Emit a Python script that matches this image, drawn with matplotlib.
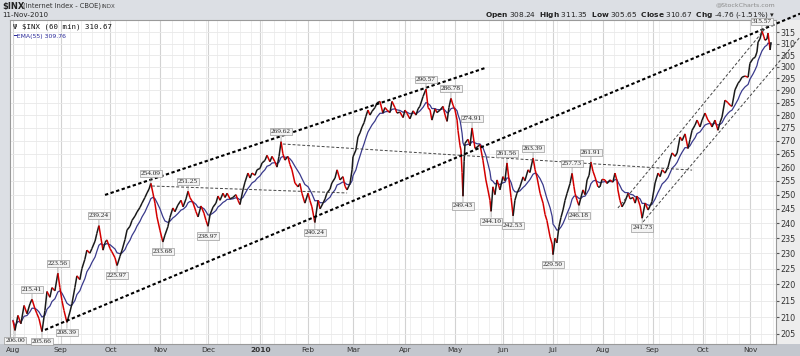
import numpy as np
import pandas as pd
import matplotlib
matplotlib.use('Agg')
import matplotlib.pyplot as plt
from matplotlib.collections import LineCollection
from matplotlib.patches import Rectangle
from matplotlib.ticker import FixedLocator, FixedFormatter, NullLocator

# time in trading days counted from 3 Aug 2009 (fraction = intraday), close of the 60 min bars
t = np.array([
    0.0, 0.9, 2.2, 3.5, 4.9, 6.2, 7.5, 8.4, 9.7, 10.6, 11.5, 12.8, 14.1, 15.0, 16.3, 17.2,
    18.5, 19.8, 20.7, 21.6, 22.5, 23.8, 25.1, 26.0, 27.3, 28.2, 29.5, 30.4, 31.7, 32.6,
    33.9, 34.8, 36.2, 37.0, 37.9, 38.8, 39.7, 40.6, 41.4, 42.8, 43.6, 45.0, 45.9, 47.2,
    48.1, 49.4, 50.3, 51.6, 52.5, 53.8, 54.7, 56.0, 56.9, 58.2, 59.1, 60.0, 60.8, 61.7,
    62.6, 63.5, 64.8, 66.1, 67.0, 68.3, 69.2, 70.5, 71.4, 72.7, 74.1, 75.0, 76.3, 77.2,
    78.0, 79.4, 80.7, 81.6, 82.9, 84.2, 85.1, 86.0, 86.9, 88.2, 89.5, 90.4, 91.3, 92.6,
    93.5, 94.4, 95.7, 97.0, 98.3, 99.2, 100.1, 101.4, 102.3, 103.6, 104.5, 105.4, 106.7,
    107.6, 108.9, 109.8, 111.1, 112.0, 113.3, 114.2, 115.5, 116.4, 117.3, 118.2, 119.0,
    119.9, 121.2, 122.1, 123.0, 124.3, 125.7, 126.5, 127.4, 128.7, 130.1, 130.9, 131.8,
    133.1, 134.5, 135.4, 136.7, 137.6, 138.4, 139.8, 140.6, 142.0, 142.9, 144.2, 145.5,
    146.4, 147.3, 148.6, 149.5, 149.9, 151.2, 152.1, 153.0, 153.9, 154.8, 155.6, 156.5,
    157.4, 158.3, 159.6, 160.5, 161.8, 163.1, 164.0, 164.9, 166.2, 167.1, 168.4, 169.3,
    170.6, 172.0, 172.8, 173.7, 175.0, 176.4, 177.7, 178.6, 179.4, 180.8, 182.1, 183.0,
    183.9, 184.7, 186.1, 186.9, 188.3, 189.6, 190.5, 191.4, 192.2, 193.1, 194.0, 194.9,
    195.8, 196.2, 197.1, 197.5, 198.0, 198.4, 198.9, 199.3, 200.6, 201.5, 202.4, 203.7,
    204.6, 205.9, 207.2, 208.5, 209.4, 210.3, 210.8, 211.6, 212.5, 213.4, 214.7, 216.0,
    216.9, 217.8, 218.7, 219.6, 220.5, 221.3, 222.2, 223.5, 224.9, 225.7, 227.1, 227.9,
    229.3, 230.2, 231.0, 232.4, 233.7, 234.6, 235.4, 236.8, 237.7, 238.1, 239.0, 239.8,
    240.7, 241.6, 242.5, 243.4, 244.3, 245.6, 246.5, 247.3, 247.8, 248.7, 249.5, 250.4,
    251.3, 252.2, 253.1, 254.0, 254.8, 255.7, 256.6, 257.9, 258.8, 259.7, 261.0, 261.9,
    263.2, 264.5, 265.4, 266.3, 266.7, 267.6, 268.5, 269.8, 271.2, 272.1, 273.4, 274.3,
    275.1, 276.5, 277.4, 278.7, 280.0, 280.9, 281.7, 283.1, 284.4, 285.3, 286.2, 287.5,
    288.8, 289.7, 290.6, 291.9, 292.8, 294.1, 295.0, 296.3, 297.6, 298.5, 299.4, 300.7,
    301.6, 302.9, 303.8, 305.1, 306.4, 307.3, 308.2, 309.5, 310.8, 311.7, 312.6, 313.9,
    315.2, 316.1, 317.0, 318.3, 319.7, 320.5, 321.4, 322.7, 324.1, 324.9, 326.3, 327.2,
    328.0, 328.5, 329.3, 330.2, 331.1, 331.5, 332.4, 332.9, 333.8, 334.2])

close = np.array([
    209.0, 206.00, 210.5, 208.0, 213.5, 211.0, 214.0, 215.41, 212.5, 211.0, 209.5, 205.66,
    212.0, 217.8, 216.0, 219.0, 218.0, 223.56, 219.0, 215.0, 212.0, 208.39, 211.5, 214.0,
    219.0, 222.7, 221.5, 225.0, 228.0, 231.0, 230.0, 231.5, 234.0, 236.6, 239.24, 235.0,
    231.0, 233.5, 234.4, 231.5, 230.5, 228.5, 225.97, 229.0, 231.0, 234.5, 237.7, 239.0,
    241.0, 242.5, 243.9, 245.5, 247.0, 249.0, 250.6, 252.0, 254.09, 250.6, 247.0, 242.2,
    237.7, 233.68, 236.0, 238.8, 242.0, 245.3, 244.0, 246.3, 248.0, 245.7, 248.5, 251.25,
    249.0, 247.1, 244.0, 242.2, 246.0, 243.5, 241.0, 238.97, 243.0, 245.6, 247.0, 249.5,
    248.0, 250.5, 249.0, 250.5, 248.5, 249.0, 250.0, 248.0, 246.5, 251.7, 254.5, 257.8,
    256.0, 257.8, 257.0, 259.0, 259.5, 261.5, 262.5, 264.4, 262.0, 264.0, 262.0, 260.0,
    264.0, 269.62, 265.0, 262.6, 264.0, 261.0, 259.0, 254.2, 252.8, 254.0, 250.5, 247.0,
    250.5, 248.0, 245.7, 240.24, 248.0, 245.0, 247.0, 248.5, 250.5, 252.0, 254.2, 256.0,
    259.0, 255.3, 256.5, 253.0, 251.7, 254.0, 259.0, 263.8, 266.4, 271.4, 273.0, 275.3,
    277.0, 279.5, 282.0, 280.0, 281.5, 283.0, 284.9, 285.5, 280.8, 283.0, 282.0, 281.0,
    285.5, 283.0, 280.8, 281.2, 279.0, 282.0, 280.7, 278.5, 281.7, 280.0, 282.5, 283.5,
    287.5, 290.57, 283.0, 282.0, 278.0, 282.5, 281.0, 282.0, 283.5, 280.0, 277.5, 283.0,
    286.78, 284.0, 282.0, 278.0, 274.0, 268.0, 266.4, 258.0, 249.43, 262.0, 269.0, 270.5,
    268.0, 274.91, 267.0, 267.5, 268.5, 262.6, 255.3, 251.7, 248.0, 244.10, 252.8, 250.0,
    255.3, 251.7, 256.5, 255.0, 261.56, 255.3, 249.0, 242.53, 248.0, 250.5, 252.8, 256.4,
    255.0, 259.0, 258.0, 263.39, 259.0, 256.4, 250.5, 247.0, 243.0, 241.0, 235.4, 233.0,
    229.50, 235.0, 233.4, 238.8, 242.0, 244.6, 248.0, 250.5, 254.0, 257.73, 253.0, 250.5,
    248.0, 246.18, 249.0, 251.7, 250.0, 255.3, 257.0, 261.91, 258.5, 256.4, 252.8, 252.8,
    255.5, 255.3, 254.0, 255.3, 254.5, 257.8, 255.0, 251.7, 248.0, 245.7, 247.5, 250.5,
    248.5, 249.0, 247.0, 249.5, 246.0, 241.73, 247.0, 244.6, 246.0, 247.5, 254.2, 257.8,
    256.5, 259.0, 257.8, 260.0, 263.0, 265.3, 264.0, 265.3, 271.4, 270.0, 272.6, 267.0,
    270.5, 274.0, 276.0, 278.0, 275.3, 278.0, 280.8, 278.0, 277.0, 275.3, 278.0, 274.0,
    277.0, 279.2, 286.0, 285.0, 284.0, 283.5, 290.2, 293.0, 294.0, 295.5, 296.0, 295.5,
    301.4, 303.5, 304.0, 306.3, 310.7, 312.0, 315.57, 313.0, 311.5, 312.0, 314.7, 307.2,
    310.67])

# annotated swing points: value, True = high (label above)
swing_values = [206.00, 215.41, 205.66, 223.56, 208.39, 239.24, 225.97, 254.09, 233.68,
                251.25, 238.97, 269.62, 240.24, 290.57, 286.78, 249.43, 274.91, 244.10,
                261.56, 242.53, 263.39, 229.50, 257.73, 246.18, 261.91, 241.73, 315.57]
swing_high = [False, True, False, True, False, True, False, True, False,
              True, False, True, False, True, True, False, True, False,
              True, False, True, False, True, False, True, False, True]

# trend lines, (t0, p0, t1, p1)
bold_lines = [(40.6, 249.9, 208.1, 299.4),
              (14.1, 206.2, 347.0, 323.5)]
thin_lines = [(61.3, 253.1, 147.3, 250.6),
              (119.0, 268.7, 299.4, 258.9),
              (266.7, 245.3, 332.9, 318.3),
              (277.8, 240.5, 347.0, 312.9)]

y_ticks = list(range(205, 320, 5))
start_day = '2009-08-03'


def draw_header(fig):
    fig.text(2 / 800, 1 - 6 / 356, "$INX", weight='bold', size=6, va='center',
             parse_math=False, color='#222222')
    fig.text(23 / 800, 1 - 6 / 356, "(Internet Index - CBOE)", size=4.9, va='center',
             color='#333333')
    fig.text(101 / 800, 1 - 6 / 356, "INDX", size=4.0, va='center', color='#444444')
    fig.text(2 / 800, 1 - 15 / 356, "11-Nov-2010", size=5.1, va='center', color='#222222')
    fig.text(775 / 800, 1 - 5 / 356, "@StockCharts.com", size=4.5, va='center', ha='right',
             color='#8a8a8a')
    fig.text(775 / 800, 1 - 15 / 356,
             r"$\bf{Open}$ 308.24  $\bf{High}$ 311.35  $\bf{Low}$ 305.65  "
             r"$\bf{Close}$ 310.67  $\bf{Chg}$ -4.76 (-1.51%) ▾",
             size=5.3, va='center', ha='right', color='#222222')


def plot_chart():
    fig = plt.figure(figsize=(8, 3.56), dpi=100, facecolor='#dcdfe4')
    # bottom band and right axis band, kept behind the axes
    fig.patches.append(Rectangle((0, 0), 1, 12 / 356, transform=fig.transFigure,
                                 facecolor='#c3c7ce', edgecolor='none', zorder=-10))
    fig.patches.append(Rectangle((776 / 800, 12 / 356), 24 / 800, 324 / 356,
                                 transform=fig.transFigure, facecolor='#ededed',
                                 edgecolor='none', zorder=-10))
    ax = fig.add_axes([10 / 800, 12 / 356, 766 / 800, 324 / 356])
    ax.set_facecolor('white')

    bdays = pd.bdate_range(start_day, '2010-11-30')
    months = bdays.to_period('M')
    month_pos = np.flatnonzero(np.r_[True, months[1:] != months[:-1]])
    month_pos = month_pos[month_pos < 336]
    month_lab = [str(bdays[i].year) if bdays[i].month == 1 else bdays[i].strftime('%b')
                 for i in month_pos]
    week_pos = np.flatnonzero(bdays.dayofweek == 0)

    for w in week_pos:
        ax.axvline(w, color='#ededed', lw=0.6, zorder=0)
    for m in month_pos:
        ax.axvline(m, color='#d2d2d2', lw=0.8, zorder=0)

    ax.set_yscale('log')
    ax.set_ylim(202.1, 320.6)
    ax.set_xlim(-1.3, 336.4)
    ax.yaxis.set_major_locator(FixedLocator(y_ticks))
    ax.yaxis.set_major_formatter(FixedFormatter([str(v) for v in y_ticks]))
    ax.yaxis.set_minor_locator(NullLocator())
    ax.yaxis.set_ticks_position('right')
    ax.yaxis.set_label_position('right')
    ax.tick_params(axis='y', which='major', right=True, labelright=True, left=False,
                   labelleft=False, length=2, labelsize=5.8, pad=1.5, colors='#555555',
                   labelcolor='#333333')
    ax.grid(True, axis='y', color='#e8e8e8', lw=0.6, zorder=0)
    ax.set_xticks(month_pos, month_lab)
    ax.tick_params(axis='x', length=0, labelsize=5.3, pad=2.5, labelcolor='#333333')
    for lab in ax.get_xticklabels():
        if lab.get_text() == '2010':
            lab.set_fontweight('bold')
    for s in ax.spines.values():
        s.set_color('#9a9a9a')
        s.set_linewidth(0.8)

    # EMA(55) of the hourly bars
    times = pd.Timestamp(start_day) + pd.to_timedelta(t, unit='D')
    ema = pd.Series(close).ewm(halflife=pd.Timedelta(days=2.7), times=times).mean()
    ax.plot(t, ema.values, color='#3a3a8c', lw=0.9, zorder=3)

    # price bars: black when rising, red when falling
    pts = np.column_stack([t, close])
    segs = np.stack([pts[:-1], pts[1:]], axis=1)
    cols = np.where(close[1:] >= close[:-1], '#1a1a1a', '#d40000')
    ax.add_collection(LineCollection(segs, colors=cols, linewidths=1.1, zorder=4))

    for (t0, p0, t1, p1) in bold_lines:
        ax.plot([t0, t1], [p0, p1], color='black', lw=1.5, ls=(0, (1.6, 1.2)),
                clip_on=False, zorder=5)
    for (t0, p0, t1, p1) in thin_lines:
        ax.plot([t0, t1], [p0, p1], color='#444444', lw=0.7, ls=(0, (3, 2)),
                clip_on=False, zorder=5)

    for v, hi in zip(swing_values, swing_high):
        i = int(np.flatnonzero(close == v)[0])
        ax.annotate('%.2f' % v, xy=(t[i], v), xytext=(0, 7 if hi else -7),
                    textcoords='offset points', ha='center', va='center',
                    fontsize=5.2, family='Liberation Serif', color='#222222',
                    bbox=dict(boxstyle='square,pad=0.15', fc='#f3f3f3', ec='#9a9a9a', lw=0.5),
                    arrowprops=dict(arrowstyle='-', color='#9a9a9a', lw=0.5,
                                    shrinkA=0, shrinkB=0),
                    zorder=6)

    ax.text(0.004, 0.99, "Ψ $INX (60 min) 310.67", transform=ax.transAxes, va='top',
            ha='left', size=5.3, family='DejaVu Sans Mono', parse_math=False,
            color='#111111', zorder=7)
    ax.text(0.004, 0.958, "━EMA(55) 309.76", transform=ax.transAxes, va='top',
            ha='left', size=4.4, color='#2a2a9a', zorder=7)

    draw_header(fig)
    fig.savefig('out.png', dpi=100, facecolor=fig.get_facecolor())


if __name__ == '__main__':
    plot_chart()
